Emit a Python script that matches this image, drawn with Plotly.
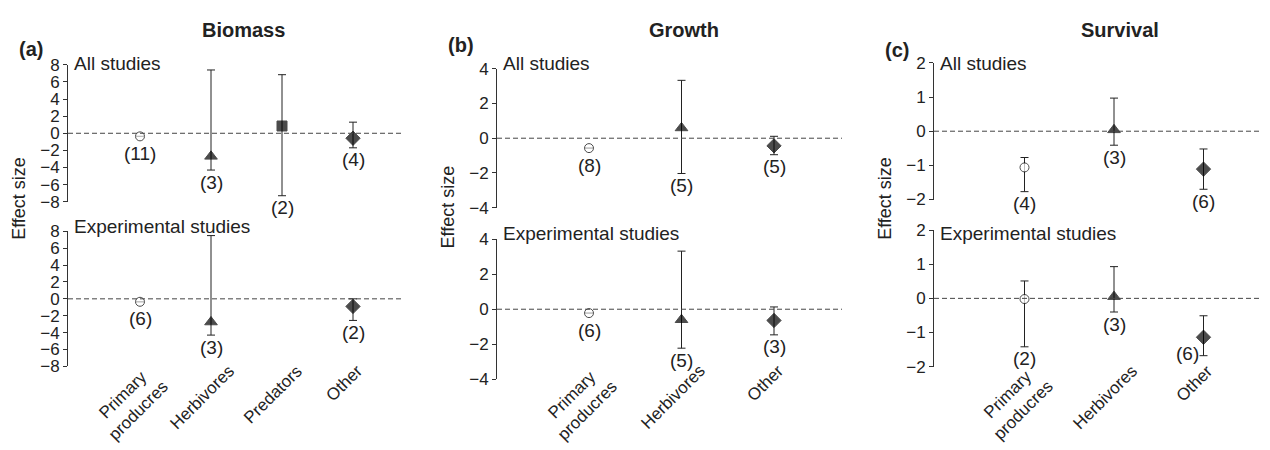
import plotly.graph_objects as go

# The page body adds an 8px margin, so the figure is sized to fit the window.
PAGE_W, PAGE_H, BODY = 1270, 450, 8
W, H = PAGE_W - BODY, PAGE_H - BODY

# ---------------- data ----------------
cats_biomass = ["Primary<br>producres", "Herbivores", "Predators", "Other"]
cats_growth = ["Primary<br>producres", "Herbivores", "Other"]
cats_survival = ["Primary<br>producres", "Herbivores", "Other"]

# Biomass - all studies
bio_all_mean = [-0.36, -2.70, 0.85, -0.58]
bio_all_low = [-0.36, -4.30, -7.30, -1.70]
bio_all_high = [-0.36, 7.40, 6.85, 1.30]
bio_all_n = [11, 3, 2, 4]
# Biomass - experimental studies (no predators)
bio_exp_mean = [-0.35, -2.75, None, -0.90]
bio_exp_low = [-0.35, -4.30, None, -2.56]
bio_exp_high = [-0.35, 7.50, None, 0.00]
bio_exp_n = [6, 3, None, 2]

# Growth
gro_all_mean = [-0.57, 0.59, -0.44]
gro_all_low = [-0.57, -2.03, -0.95]
gro_all_high = [-0.57, 3.33, 0.11]
gro_all_n = [8, 5, 5]
gro_exp_mean = [-0.22, -0.60, -0.64]
gro_exp_low = [-0.22, -2.22, -1.46]
gro_exp_high = [-0.22, 3.31, 0.13]
gro_exp_n = [6, 5, 3]

# Survival
sur_all_mean = [-1.06, 0.04, -1.11]
sur_all_low = [-1.77, -0.41, -1.70]
sur_all_high = [-0.77, 0.97, -0.52]
sur_all_n = [4, 3, 6]
sur_exp_mean = [-0.02, 0.05, -1.14]
sur_exp_low = [-1.42, -0.40, -1.68]
sur_exp_high = [0.51, 0.93, -0.51]
sur_exp_n = [2, 3, 6]

panel_titles = ["Biomass", "Growth", "Survival"]
panel_letters = ["(a)", "(b)", "(c)"]
row_titles = ["All studies", "Experimental studies"]
y_title = "Effect size"

# ---------------- styles ----------------
FONT = "Liberation Sans, Arial, Helvetica, sans-serif"
INK = "#222222"
symbol_of = {
    "Primary<br>producres": ("circle", "white", 9),
    "Herbivores": ("triangle-up", "black", 11),
    "Predators": ("square", "black", 10),
    "Other": ("diamond", "black", 11),
}

# layout geometry (pixels in the page)
geom = [
    dict(x0=68, x1=402, c0=140, step=71, rows=[(58, 201), (232, 373)],
         yr=[-8, 8], dtick=2, letter_y=41),
    dict(x0=497, x1=842, c0=589, step=92.5, rows=[(62, 207.3), (240, 386.7)],
         yr=[-4, 4], dtick=2, letter_y=37),
    dict(x0=934, x1=1270, c0=1024.5, step=89.5, rows=[(56, 198.7), (230.7, 373.3)],
         yr=[-2, 2], dtick=1, letter_y=42),
]
title_centers = [243, 684, 1120]
row_text_y = [[57, 227], [57, 234], [57, 234]]
ytitle_y = [198, 207, 198]

panels = [
    (cats_biomass, [(bio_all_mean, bio_all_low, bio_all_high, bio_all_n),
                    (bio_exp_mean, bio_exp_low, bio_exp_high, bio_exp_n)]),
    (cats_growth, [(gro_all_mean, gro_all_low, gro_all_high, gro_all_n),
                   (gro_exp_mean, gro_exp_low, gro_exp_high, gro_exp_n)]),
    (cats_survival, [(sur_all_mean, sur_all_low, sur_all_high, sur_all_n),
                     (sur_exp_mean, sur_exp_low, sur_exp_high, sur_exp_n)]),
]
# special label nudges (panel, row, category index) -> (xshift, yshift)
label_nudge = {(2, 1, 2): (-16, 14)}


def px_x(p):
    return min(1.0, max(0.0, (p - BODY) / W))


def px_y(p):
    return min(1.0, max(0.0, 1 - (p - BODY) / H))


fig = go.Figure()
layout = dict(
    width=W, height=H, margin=dict(l=0, r=0, t=0, b=0), autosize=False,
    paper_bgcolor="white", plot_bgcolor="white", showlegend=False,
    font=dict(family=FONT, color=INK),
)
annotations = []
shapes = []

k = 0
for p, (cats, rows) in enumerate(panels):
    g = geom[p]
    x1 = min(g["x1"], PAGE_W)
    xr = [(g["x0"] - g["c0"]) / g["step"], (x1 - g["c0"]) / g["step"]]
    for r, (mean, low, high, ns) in enumerate(rows):
        k += 1
        xa = "x" if k == 1 else f"x{k}"
        ya = "y" if k == 1 else f"y{k}"
        top, bot = g["rows"][r]
        layout["xaxis" if k == 1 else f"xaxis{k}"] = dict(
            domain=[px_x(g["x0"]), px_x(x1)], range=xr, anchor=ya,
            showline=False, showticklabels=False, ticks="", showgrid=False,
            zeroline=False, fixedrange=True,
        )
        layout["yaxis" if k == 1 else f"yaxis{k}"] = dict(
            domain=[px_y(bot), px_y(top)], range=g["yr"], anchor=xa,
            dtick=g["dtick"], tick0=0, showline=True, linecolor="#333",
            linewidth=1, ticks="outside", ticklen=4, tickcolor="#333",
            tickfont=dict(size=17, color=INK, family=FONT), showgrid=False,
            zeroline=False, fixedrange=True,
        )
        # dashed zero line
        shapes.append(dict(type="line", xref=f"{xa} domain", yref=ya,
                           x0=0, x1=1, y0=0, y1=0,
                           line=dict(color="#444", width=1, dash="5px,3px")))
        xs, ys, ep, em, syms, fills, sizes = [], [], [], [], [], [], []
        for i, c in enumerate(cats):
            if mean[i] is None:
                continue
            xs.append(i)
            ys.append(mean[i])
            has_err = not (high[i] == mean[i] and low[i] == mean[i])
            ep.append(high[i] - mean[i] if has_err else None)
            em.append(mean[i] - low[i] if has_err else None)
            s, f, sz = symbol_of[c]
            syms.append(s)
            fills.append(f)
            sizes.append(sz)
            dx, dy = label_nudge.get((p, r, i), (0, 0))
            annotations.append(dict(
                x=i, y=low[i], xref=xa, yref=ya, text=f"({ns[i]})",
                showarrow=False, xanchor="center", yanchor="middle",
                yshift=(-12 if has_err else -17) + dy, xshift=dx,
                font=dict(size=19, color=INK, family=FONT)))
        fig.add_trace(go.Scatter(
            x=xs, y=ys, xaxis=xa, yaxis=ya, mode="markers",
            marker=dict(symbol=syms, color=fills, size=sizes,
                        line=dict(color="black", width=1)),
            error_y=dict(type="data", symmetric=False, array=ep, arrayminus=em,
                         color="#222", thickness=1, width=4),
            hoverinfo="skip",
        ))
        # row title
        annotations.append(dict(
            x=px_x(g["x0"] + 4), y=px_y(row_text_y[p][r]), xref="paper",
            yref="paper", text=row_titles[r], showarrow=False,
            xanchor="left", yanchor="middle",
            font=dict(size=19, color=INK, family=FONT)))
        if r == 1:
            for i, c in enumerate(cats):
                annotations.append(dict(
                    x=i, y=px_y(365), xref=xa, yref="paper", text=c,
                    showarrow=False, textangle=-45, xanchor="center",
                    yanchor="top", xshift=-9, align="center",
                    font=dict(size=17, color=INK, family=FONT)))
    # panel title, letter and y title
    annotations.append(dict(
        x=px_x(title_centers[p]), y=px_y(22), xref="paper", yref="paper",
        text=f"<b>{panel_titles[p]}</b>", showarrow=False,
        xanchor="center", yanchor="middle",
        font=dict(size=20, color=INK, family=FONT)))
    annotations.append(dict(
        x=px_x(g["x0"] - 51), y=px_y(g["letter_y"]), xref="paper", yref="paper",
        text=f"<b>{panel_letters[p]}</b>", showarrow=False,
        xanchor="left", yanchor="middle",
        font=dict(size=20, color=INK, family=FONT)))
    annotations.append(dict(
        x=px_x(g["x0"] - 49), y=px_y(ytitle_y[p]), xref="paper", yref="paper",
        text=y_title, showarrow=False, textangle=-90,
        xanchor="center", yanchor="middle",
        font=dict(size=18, color=INK, family=FONT)))

layout["annotations"] = annotations
layout["shapes"] = shapes
fig.update_layout(**layout)
fig.write_html("out.html", config={"displayModeBar": False})
